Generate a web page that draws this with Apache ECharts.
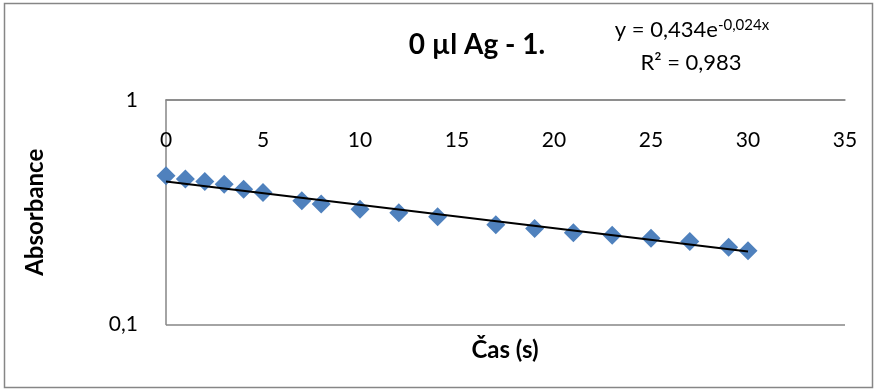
<!DOCTYPE html>
<html>
<head>
<meta charset="utf-8">
<script src="https://cdn.jsdelivr.net/npm/echarts@6/dist/echarts.min.js"></script>
<style>
  html, body { margin: 0; padding: 0; background: #ffffff; }
  #chart { width: 877px; height: 392px; }
</style>
</head>
<body>
<div id="chart"></div>
<script>
// Measured absorbance over time (0 µl Ag, run 1)
const timeS = [0, 1, 2, 3, 4, 5, 7, 8, 10, 12, 14, 17, 19, 21, 23, 25, 27, 29, 30];
const absorbance = [0.460, 0.445, 0.433, 0.421, 0.400, 0.387, 0.356, 0.344, 0.326, 0.315,
                    0.302, 0.278, 0.268, 0.256, 0.250, 0.242, 0.234, 0.221, 0.213];

// Axis ticks
const xTicks = [0, 5, 10, 15, 20, 25, 30, 35];
const yTicks = [0.1, 1];

// Exponential trend y = a·e^(k·x), as given in the equation label
const fitA = 0.434;
const fitK = -0.024;
const fitR2 = 0.983;
const fitRange = [0, 30];

const fmt = v => String(v).replace('.', ',');
const trend = fitRange.map(x => [x, fitA * Math.exp(fitK * x)]);

const FONT = 'Lato, "Open Sans", sans-serif';
const GREY = '#868686';

const chart = echarts.init(document.getElementById('chart'), null, { renderer: 'canvas' });
chart.setOption({
  animation: false,
  backgroundColor: '#ffffff',
  grid: { left: 166, top: 100, right: 32, bottom: 67.5, containLabel: false },
  xAxis: {
    type: 'value',
    position: 'top',
    min: xTicks[0],
    max: xTicks[xTicks.length - 1],
    interval: xTicks[1] - xTicks[0],
    axisLine: { show: true, onZero: false, lineStyle: { color: GREY, width: 1.5 } },
    axisTick: { show: false },
    splitLine: { show: false },
    axisLabel: { inside: true, margin: 30, color: '#000', fontFamily: FONT, fontSize: 21 }
  },
  yAxis: {
    type: 'log',
    logBase: 10,
    min: yTicks[0],
    max: yTicks[yTicks.length - 1],
    axisLine: { show: true, onZero: false, lineStyle: { color: GREY, width: 1.5 } },
    axisTick: { show: false },
    splitLine: { show: true, lineStyle: { color: GREY, width: 1.5 } },
    axisLabel: { margin: 28, color: '#000', fontFamily: FONT, fontSize: 21, formatter: fmt },
    name: 'Absorbance',
    nameLocation: 'middle',
    nameRotate: 90,
    nameGap: 119,
    nameTextStyle: { color: '#000', fontFamily: FONT, fontSize: 24, fontWeight: 'bold' }
  },
  series: [
    {
      type: 'scatter',
      data: timeS.map((t, i) => [t, absorbance[i]]),
      symbol: 'diamond',
      symbolSize: 19,
      itemStyle: { color: '#4f81bd', opacity: 1 },
      z: 2
    },
    {
      type: 'line',
      data: trend,
      showSymbol: false,
      lineStyle: { color: '#000000', width: 2 },
      silent: true,
      z: 3
    }
  ],
  graphic: [
    {
      type: 'rect',
      shape: { x: 4.5, y: 3.5, width: 868, height: 384 },
      style: { fill: null, stroke: GREY, lineWidth: 1.5 },
      silent: true
    },
    {
      type: 'text', x: 477, y: 45,
      style: { text: '0 µl Ag - 1.', align: 'center', verticalAlign: 'middle',
               font: 'bold 28px ' + FONT, fill: '#000' }
    },
    {
      type: 'text', x: 692, y: 30,
      style: {
        text: '{m|y = ' + fmt(fitA) + 'e}{s|' + fmt(fitK) + 'x}',
        align: 'center', verticalAlign: 'middle',
        rich: {
          m: { fontFamily: FONT, fontSize: 22, fill: '#000' },
          s: { fontFamily: FONT, fontSize: 15, fill: '#000', verticalAlign: 'top', padding: [0, 0, 10, 0] }
        }
      }
    },
    {
      type: 'text', x: 691, y: 63,
      style: { text: 'R² = ' + fmt(fitR2), align: 'center', verticalAlign: 'middle',
               font: '22px ' + FONT, fill: '#000' }
    },
    {
      type: 'text', x: 505, y: 350,
      style: { text: 'Čas (s)', align: 'center', verticalAlign: 'middle',
               font: 'bold 24px ' + FONT, fill: '#000' }
    }
  ]
});
</script>
</body>
</html>
